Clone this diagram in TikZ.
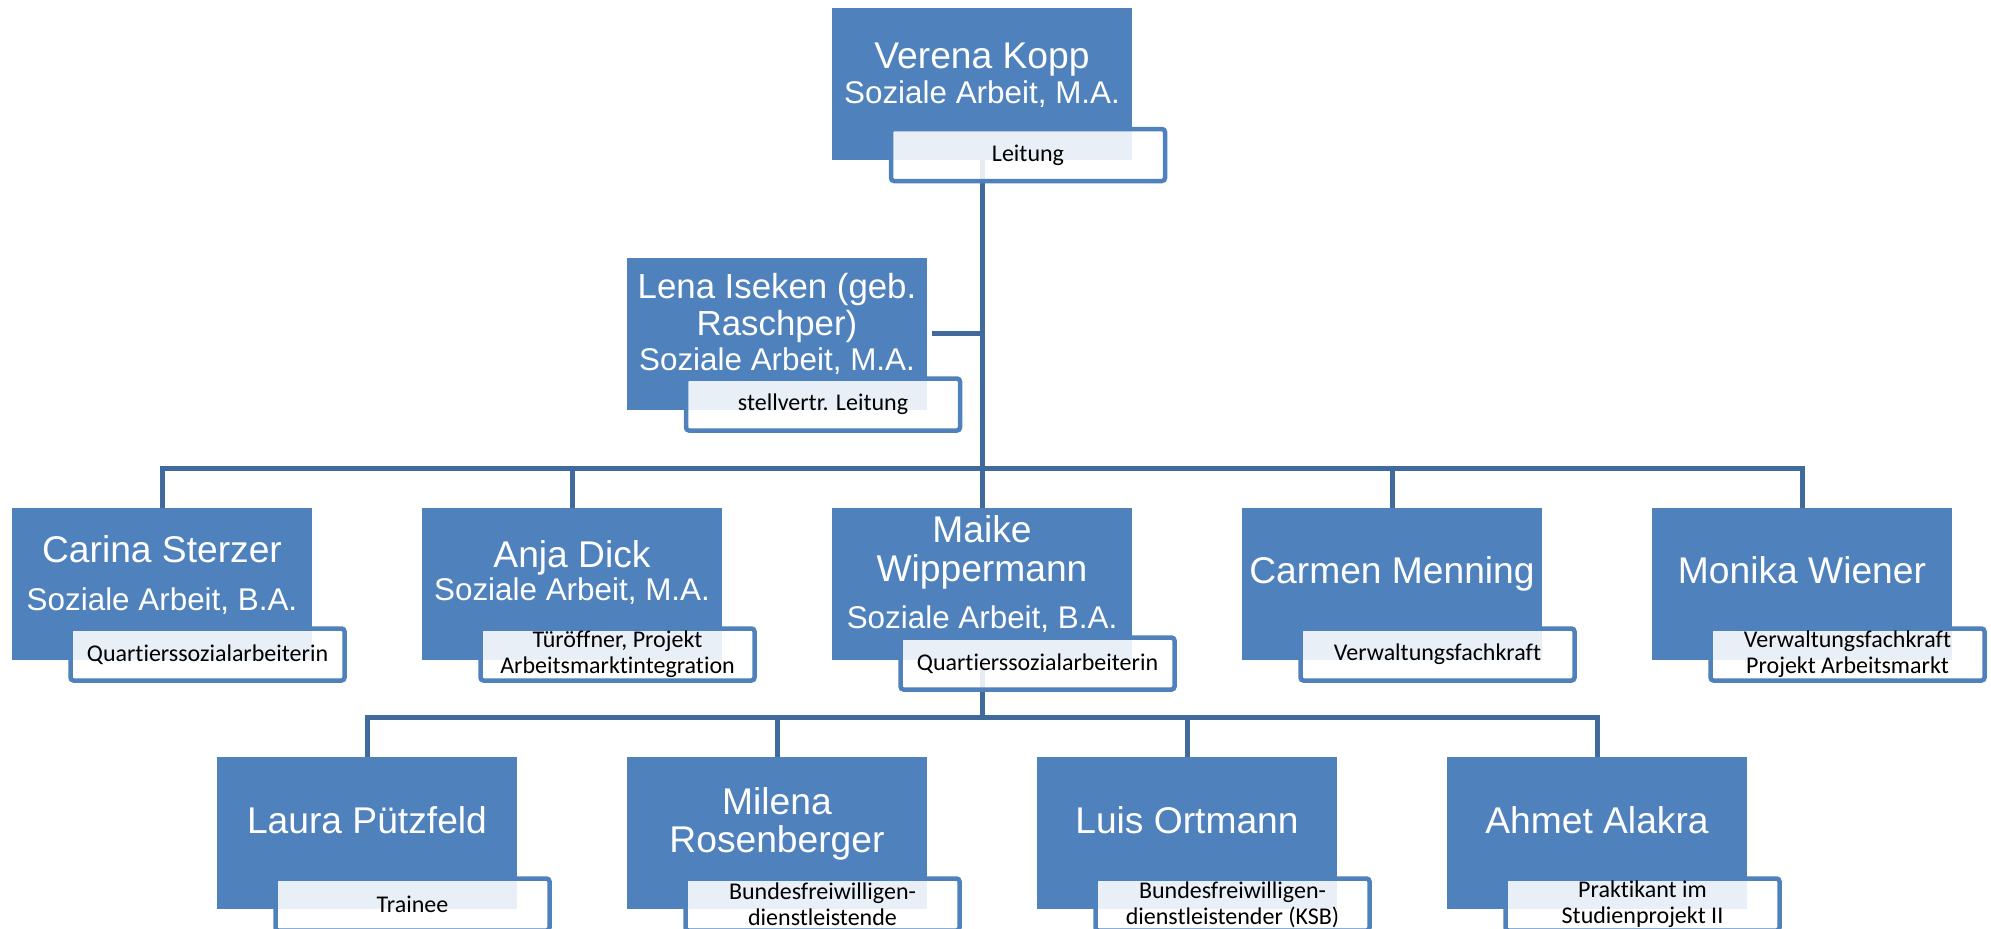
\documentclass[tikz,border=0pt]{standalone}
\usepackage{fontspec}
\setmainfont{Liberation Sans}
\newfontfamily\lblfont[Ligatures=NoCommon]{Carlito}
\definecolor{boxblue}{RGB}{79,129,189}
\definecolor{linkblue}{RGB}{64,106,158}
\begin{document}
\begin{tikzpicture}[x=0.5pt,y=-0.5pt,
  pbox/.style={rectangle, fill=boxblue, minimum width=150pt, minimum height=76pt, inner sep=0pt, outer sep=0pt},
  lbl/.style={rectangle, draw=boxblue, line width=2.25pt, rounded corners=1.5pt, fill=white, fill opacity=0.88, text opacity=1,
    minimum width=137pt, minimum height=26pt, inner sep=0pt, outer sep=0pt, align=center,
    font=\lblfont\fontsize{12}{13}\selectfont},
  nm/.style={anchor=base, text=white, inner sep=0pt, font=\fontsize{18.6}{20}\selectfont},
  nms/.style={anchor=base, text=white, inner sep=0pt, font=\fontsize{17.4}{19}\selectfont},
  sub/.style={anchor=base, text=white, inner sep=0pt, font=\fontsize{15.7}{17}\selectfont},
  link/.style={draw=linkblue, line width=2.5pt}
]
\fill[white] (0,0) rectangle (1991,928);
\useasboundingbox (0,0) rectangle (1991,928);

\coordinate (j1) at (982,468);
\coordinate (j2) at (982,717.5);

% boxes
\node[pbox] (verena) at (982,84) {};
\node[pbox] (lena) at (777,333.5) {};
\node[pbox] (carina) at (162,583.5) {};
\node[pbox] (anja) at (572,583.5) {};
\node[pbox] (maike) at (982,583.5) {};
\node[pbox] (carmen) at (1392,583.5) {};
\node[pbox] (monika) at (1802,583.5) {};
\node[pbox] (laura) at (367,833) {};
\node[pbox] (milena) at (777,833) {};
\node[pbox] (luis) at (1187,833) {};
\node[pbox] (ahmet) at (1597,833) {};

% connectors
\draw[link] (verena.south) -- (j1);
\draw[link] ([xshift=2.5pt]lena.east) -- (lena.east -| verena.south);
\draw[link] (carina.north) -- (carina.north |- j1) -- (monika.north |- j1) -- (monika.north);
\draw[link] (anja.north |- j1) -- (anja.north);
\draw[link] (j1) -- (maike.north);
\draw[link] (carmen.north |- j1) -- (carmen.north);
\draw[link] (maike.south) -- (j2);
\draw[link] (laura.north) -- (laura.north |- j2) -- (ahmet.north |- j2) -- (ahmet.north);
\draw[link] (milena.north |- j2) -- (milena.north);
\draw[link] (luis.north |- j2) -- (luis.north);

% role labels
\node[lbl] (verenaL) at (1028,155) {Leitung};
\node[lbl] (lenaL) at (823,404.5) {stellvertr. Leitung};
\node[lbl] (carinaL) at (207.5,654.5) {Quartierssozialarbeiterin};
\node[lbl] (anjaL) at (617.5,654.5) {Türöffner, Projekt\\Arbeitsmarktintegration};
\node[lbl] (maikeL) at (1037.5,663.5) {Quartierssozialarbeiterin};
\node[lbl] (carmenL) at (1437.5,654.5) {Verwaltungsfachkraft};
\node[lbl] (monikaL) at (1847.5,654.5) {Verwaltungsfachkraft\\Projekt Arbeitsmarkt};
\node[lbl] (lauraL) at (412.5,904.5) {Trainee};
\node[lbl] (milenaL) at (822.5,904.5) {Bundesfreiwilligen-\\dienstleistende};
\node[lbl] (luisL) at (1232.5,904.5) {Bundesfreiwilligen-\\dienstleistender (KSB)};
\node[lbl] (ahmetL) at (1642.5,904.5) {Praktikant im\\Studienprojekt II};

% names
\node[nm] (verenaA) at (982,68) {Verena Kopp};
\node[sub] (verenaB) at (982,103) {Soziale Arbeit, M.A.};
\node[nms] (lenaA) at (777,298) {Lena Iseken (geb.};
\node[nms] (lenaB) at (777,335) {Raschper)};
\node[sub] (lenaC) at (777,370) {Soziale Arbeit, M.A.};
\node[nm] (carinaA) at (162,562) {Carina Sterzer};
\node[sub] (carinaB) at (162,610) {Soziale Arbeit, B.A.};
\node[nm] (anjaA) at (572,567) {Anja Dick};
\node[sub] (anjaB) at (572,600) {Soziale Arbeit, M.A.};
\node[nm] (maikeA) at (982,542) {Maike};
\node[nm] (maikeB) at (982,581) {Wippermann};
\node[sub] (maikeC) at (982,628) {Soziale Arbeit, B.A.};
\node[nm] (carmenA) at (1392,583) {Carmen Menning};
\node[nm] (monikaA) at (1802,583) {Monika Wiener};
\node[nm] (lauraA) at (367,833) {Laura Pützfeld};
\node[nm] (milenaA) at (777,814) {Milena};
\node[nm] (milenaB) at (777,852) {Rosenberger};
\node[nm] (luisA) at (1187,833) {Luis Ortmann};
\node[nm] (ahmetA) at (1597,833) {Ahmet Alakra};
\end{tikzpicture}
\end{document}
